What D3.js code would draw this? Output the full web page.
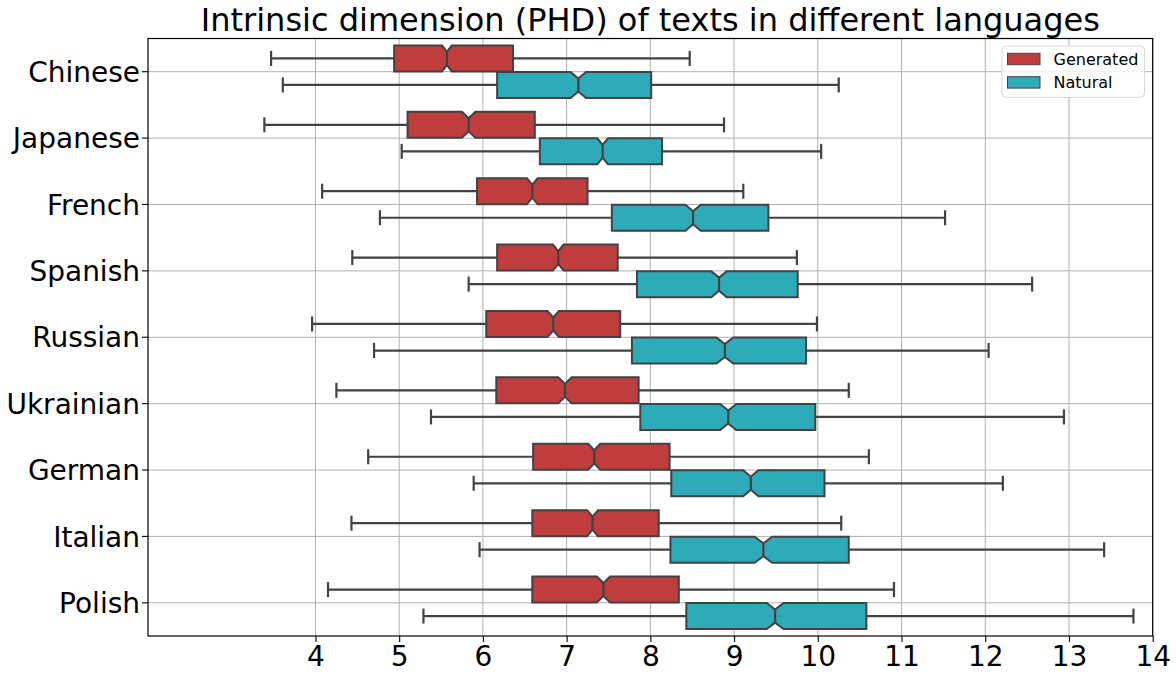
<!DOCTYPE html>
<html>
<head>
<meta charset="utf-8">
<script src="https://cdn.jsdelivr.net/npm/d3@7"></script>
<style>
  html, body { margin: 0; padding: 0; background: #ffffff; }
  svg { display: block; font-family: "DejaVu Sans", sans-serif; }
</style>
</head>
<body>
<svg id="chart" width="1176" height="678"></svg>
<script>
// ---- data ----
const languages = ["Chinese","Japanese","French","Spanish","Russian","Ukrainian","German","Italian","Polish"];
const hues = ["Generated","Natural"];
const hueColors = ["#c03d3e","#2eabb8"];
const xTicks = [4,5,6,7,8,9,10,11,12,13,14];

const genWhiskerLow  = [3.47,3.39,4.08,4.44,3.96,4.25,4.63,4.43,4.15];
const genQ1          = [4.94,5.10,5.93,6.17,6.04,6.16,6.60,6.59,6.59];
const genMedian      = [5.57,5.83,6.59,6.90,6.84,6.98,7.33,7.31,7.44];
const genQ3          = [6.36,6.62,7.25,7.61,7.64,7.86,8.23,8.10,8.34];
const genWhiskerHigh = [8.47,8.88,9.11,9.75,9.99,10.37,10.61,10.28,10.91];
const genNotch       = [0.057,0.080,0.064,0.064,0.068,0.080,0.072,0.064,0.080];

const natWhiskerLow  = [3.61,5.03,4.77,5.83,4.70,5.38,5.89,5.96,5.29];
const natQ1          = [6.17,6.68,7.54,7.84,7.78,7.88,8.25,8.24,8.43];
const natMedian      = [7.14,7.43,8.51,8.82,8.89,8.93,9.20,9.35,9.49];
const natQ3          = [8.01,8.14,9.41,9.76,9.86,9.97,10.08,10.37,10.58];
const natWhiskerHigh = [10.25,10.04,11.52,12.56,12.04,12.94,12.21,13.42,13.77];
const natNotch       = [0.092,0.064,0.092,0.092,0.100,0.096,0.090,0.105,0.100];

const series = [
  {lo: genWhiskerLow, q1: genQ1, med: genMedian, q3: genQ3, hi: genWhiskerHigh, notch: genNotch},
  {lo: natWhiskerLow, q1: natQ1, med: natMedian, q3: natQ3, hi: natWhiskerHigh, notch: natNotch}
];

// ---- layout ----
const svg = d3.select("#chart");
const L = 148, R = 1152.7, T = 38.5, B = 636;
const edge = "#424242";

const x = d3.scaleLinear().domain([2, 14]).range([L, R]);
const y = d3.scaleBand().domain(languages).range([T, B]).paddingInner(0).paddingOuter(0);
const hueOffset = d3.scaleBand().domain(hues).range([-0.4, 0.4]);  // in band units

const band = y.bandwidth();
const boxW = 0.392 * band;

// grid
const grid = svg.append("g");
grid.selectAll("line.gx").data(xTicks).join("line")
  .attr("x1", d => x(d)).attr("x2", d => x(d))
  .attr("y1", T).attr("y2", B)
  .attr("stroke", "#b0b0b0").attr("stroke-width", 1);
grid.selectAll("line.gy").data(languages).join("line")
  .attr("x1", L).attr("x2", R)
  .attr("y1", d => y(d) + band / 2).attr("y2", d => y(d) + band / 2)
  .attr("stroke", "#b0b0b0").attr("stroke-width", 1);

// boxes
const plot = svg.append("g");
series.forEach((s, h) => {
  const off = (hueOffset(hues[h]) + hueOffset.bandwidth() / 2) * band;
  languages.forEach((lang, i) => {
    const cy = y(lang) + band / 2 + off;
    const g = plot.append("g");
    const lo = x(s.lo[i]), hi = x(s.hi[i]), q1 = x(s.q1[i]), q3 = x(s.q3[i]), md = x(s.med[i]);
    const cil = x(s.med[i] - s.notch[i]), cih = x(s.med[i] + s.notch[i]);
    const hw = boxW / 2, qw = boxW / 4;
    // whiskers
    g.append("line").attr("x1", lo).attr("x2", q1).attr("y1", cy).attr("y2", cy)
      .attr("stroke", edge).attr("stroke-width", 2.2);
    g.append("line").attr("x1", q3).attr("x2", hi).attr("y1", cy).attr("y2", cy)
      .attr("stroke", edge).attr("stroke-width", 2.2);
    // caps
    [lo, hi].forEach(cx => {
      g.append("line").attr("x1", cx).attr("x2", cx).attr("y1", cy - qw - 1).attr("y2", cy + qw + 1)
        .attr("stroke", edge).attr("stroke-width", 2.2);
    });
    // notched box
    const pts = [
      [q1, cy - hw], [cil, cy - hw], [md, cy - qw], [cih, cy - hw], [q3, cy - hw],
      [q3, cy + hw], [cih, cy + hw], [md, cy + qw], [cil, cy + hw], [q1, cy + hw]
    ];
    g.append("path").attr("d", d3.line()(pts) + "Z")
      .attr("fill", hueColors[h]).attr("stroke", edge).attr("stroke-width", 2)
      .attr("stroke-linejoin", "miter");
    // median
    g.append("line").attr("x1", md).attr("x2", md).attr("y1", cy - qw).attr("y2", cy + qw)
      .attr("stroke", edge).attr("stroke-width", 2.2);
  });
});

// axes
const xAxis = d3.axisBottom(x).tickValues(xTicks).tickSize(6).tickPadding(4).tickFormat(d3.format("d"));
const gx = svg.append("g").attr("transform", `translate(0,${B})`).call(xAxis);
gx.select(".domain").remove();
gx.selectAll("line").attr("stroke", "#000").attr("stroke-width", 1.1);
gx.selectAll("text").attr("font-size", 28).attr("fill", "#000")
  .attr("font-family", "DejaVu Sans").attr("dy", "0.72em");

const yAxis = d3.axisLeft(y).tickSize(6).tickPadding(2);
const gy = svg.append("g").attr("transform", `translate(${L},0)`).call(yAxis);
gy.select(".domain").remove();
gy.selectAll("line").attr("stroke", "#000").attr("stroke-width", 1.1);
gy.selectAll("text").attr("font-size", 28).attr("fill", "#000")
  .attr("font-family", "DejaVu Sans").attr("dy", "0.36em");

// frame
svg.append("rect").attr("x", L).attr("y", T).attr("width", R - L).attr("height", B - T)
  .attr("fill", "none").attr("stroke", "#000").attr("stroke-width", 1.2);

// title
svg.append("text").attr("x", (L + R) / 2).attr("y", 30.5).attr("text-anchor", "middle")
  .attr("font-size", 32).attr("fill", "#000")
  .text("Intrinsic dimension (PHD) of texts in different languages");

// legend
const leg = svg.append("g");
leg.append("rect").attr("x", 1002).attr("y", 46).attr("width", 142.5).attr("height", 51.3)
  .attr("rx", 4).attr("fill", "#fff").attr("fill-opacity", 0.8)
  .attr("stroke", "#d8d8d8").attr("stroke-width", 1);
hues.forEach((hName, k) => {
  const yy = 53.3 + k * 23.4;
  leg.append("rect").attr("x", 1007.5).attr("y", yy).attr("width", 32.5).attr("height", 11.4)
    .attr("fill", hueColors[k]).attr("stroke", edge).attr("stroke-width", 1);
  leg.append("text").attr("x", 1053.5).attr("y", yy + 5.7).attr("dy", "0.36em")
    .attr("font-size", 16).attr("fill", "#000").text(hName);
});
</script>
</body>
</html>
